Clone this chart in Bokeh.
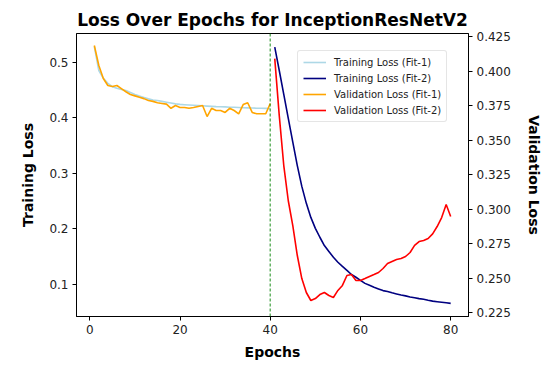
from bokeh.plotting import figure
from bokeh.models import Range1d, LinearAxis, Legend, LegendItem, Span, FixedTicker, PrintfTickFormatter
from bokeh.embed import file_html
from bokeh.resources import INLINE

# ---- data ----
epochs_fit1 = list(range(1, 41))
epochs_fit2 = list(range(41, 81))

train_fit1 = [0.528, 0.485, 0.471, 0.462, 0.456, 0.453, 0.451, 0.449, 0.4455, 0.442,
              0.439, 0.4365, 0.434, 0.432, 0.431, 0.4295, 0.428, 0.4265, 0.425, 0.424,
              0.4235, 0.423, 0.4225, 0.422, 0.4215, 0.421, 0.4205, 0.420, 0.4198, 0.4195,
              0.419, 0.4188, 0.4185, 0.418, 0.4178, 0.4175, 0.4172, 0.417, 0.4168, 0.4165]

train_fit2 = [0.527, 0.485, 0.442, 0.399, 0.356, 0.314, 0.2765, 0.246, 0.2207, 0.201,
              0.185, 0.170, 0.1595, 0.149, 0.140, 0.1325, 0.1255, 0.118, 0.113, 0.1075,
              0.102, 0.0985, 0.095, 0.092, 0.089, 0.0875, 0.085, 0.083, 0.081, 0.0795,
              0.0775, 0.076, 0.0745, 0.0733, 0.0715, 0.070, 0.069, 0.068, 0.067, 0.066]

val_fit1 = [0.4185, 0.404, 0.3946, 0.3895, 0.3888, 0.3895, 0.3873, 0.385, 0.383, 0.382,
            0.381, 0.380, 0.3786, 0.378, 0.377, 0.3765, 0.376, 0.373, 0.375, 0.3736,
            0.3736, 0.373, 0.3736, 0.3743, 0.375, 0.367, 0.373, 0.3714, 0.3714, 0.370,
            0.373, 0.3714, 0.369, 0.3757, 0.377, 0.370, 0.369, 0.369, 0.369, 0.3765]

val_fit2 = [0.409, 0.3677, 0.3315, 0.306, 0.288, 0.2663, 0.2496, 0.2395, 0.2337, 0.2351,
            0.238, 0.2395, 0.2373, 0.2359, 0.241, 0.2446, 0.2518, 0.2525, 0.2482, 0.2482,
            0.2496, 0.2511, 0.2525, 0.254, 0.2569, 0.2605, 0.262, 0.2634, 0.2641, 0.2656,
            0.2685, 0.2736, 0.2764, 0.2772, 0.2786, 0.282, 0.2873, 0.2938, 0.3033, 0.2946]

switch_epoch = 40
x_ticks = [0, 20, 40, 60, 80]
left_ticks = [0.1, 0.2, 0.3, 0.4, 0.5]
right_ticks = [0.225, 0.25, 0.275, 0.3, 0.325, 0.35, 0.375, 0.4, 0.425]

FONT = "DejaVu Sans"

p = figure(width=549, height=371, output_backend="svg", toolbar_location=None,
           x_range=Range1d(-2.95, 83.95), y_range=Range1d(0.0424, 0.5516),
           min_border_left=76, min_border_right=81, min_border_top=33, min_border_bottom=55)
p.extra_y_ranges = {"val": Range1d(0.2221, 0.4272)}

p.title.text = "Loss Over Epochs for InceptionResNetV2"
p.title.text_font = FONT
p.title.text_font_size = "17px"
p.title.text_font_style = "bold"
p.title.align = "center"
p.title.text_color = "black"
p.title.standoff = 8

p.xgrid.visible = False
p.ygrid.visible = False
p.outline_line_color = "black"
p.outline_line_width = 1
p.background_fill_color = "white"
p.border_fill_color = "white"

def style_axis(ax, label, ticks, standoff):
    ax.ticker = FixedTicker(ticks=ticks)
    ax.axis_label = label
    ax.axis_label_text_font = FONT
    ax.axis_label_text_font_size = "14px"
    ax.axis_label_text_font_style = "bold"
    ax.axis_label_text_color = "black"
    ax.axis_label_standoff = standoff
    ax.major_label_text_font = FONT
    ax.major_label_text_font_size = "12px"
    ax.major_label_text_color = "#222222"
    ax.major_tick_out = 4
    ax.major_tick_in = 0
    ax.minor_tick_out = 0
    ax.minor_tick_in = 0
    ax.axis_line_color = "black"
    ax.major_tick_line_color = "black"
    ax.major_label_standoff = 4

style_axis(p.xaxis[0], "Epochs", x_ticks, 7)
style_axis(p.yaxis[0], "Training Loss", left_ticks, 10)

raxis = LinearAxis(y_range_name="val")
style_axis(raxis, "Validation Loss", right_ticks, 12)
raxis.formatter = PrintfTickFormatter(format="%.3f")
p.add_layout(raxis, "right")

lw = 1.6
r1 = p.line(epochs_fit1, train_fit1, line_color="lightblue", line_width=lw)
r2 = p.line(epochs_fit2, train_fit2, line_color="navy", line_width=lw)
r3 = p.line(epochs_fit1, val_fit1, line_color="orange", line_width=lw, y_range_name="val")
r4 = p.line(epochs_fit2, val_fit2, line_color="red", line_width=lw, y_range_name="val")

vline = Span(location=switch_epoch, dimension="height", line_color="green",
             line_dash="3 2", line_width=1.5, line_alpha=0.6)
p.add_layout(vline)

legend = Legend(items=[
    LegendItem(label="Training Loss (Fit-1)", renderers=[r1]),
    LegendItem(label="Training Loss (Fit-2)", renderers=[r2]),
    LegendItem(label="Validation Loss (Fit-1)", renderers=[r3]),
    LegendItem(label="Validation Loss (Fit-2)", renderers=[r4]),
], location=(221, 194))
legend.label_text_font = FONT
legend.label_text_font_size = "10px"
legend.label_text_color = "#222222"
legend.label_height = 12
legend.glyph_height = 12
legend.glyph_width = 23
legend.label_standoff = 8
legend.spacing = 4
legend.padding = 5
legend.margin = 0
legend.border_line_color = "#cccccc"
legend.border_line_width = 1
legend.border_radius = 3
legend.background_fill_alpha = 0.8
p.add_layout(legend, "center")

open("out.html", "w").write(file_html(p, INLINE))
